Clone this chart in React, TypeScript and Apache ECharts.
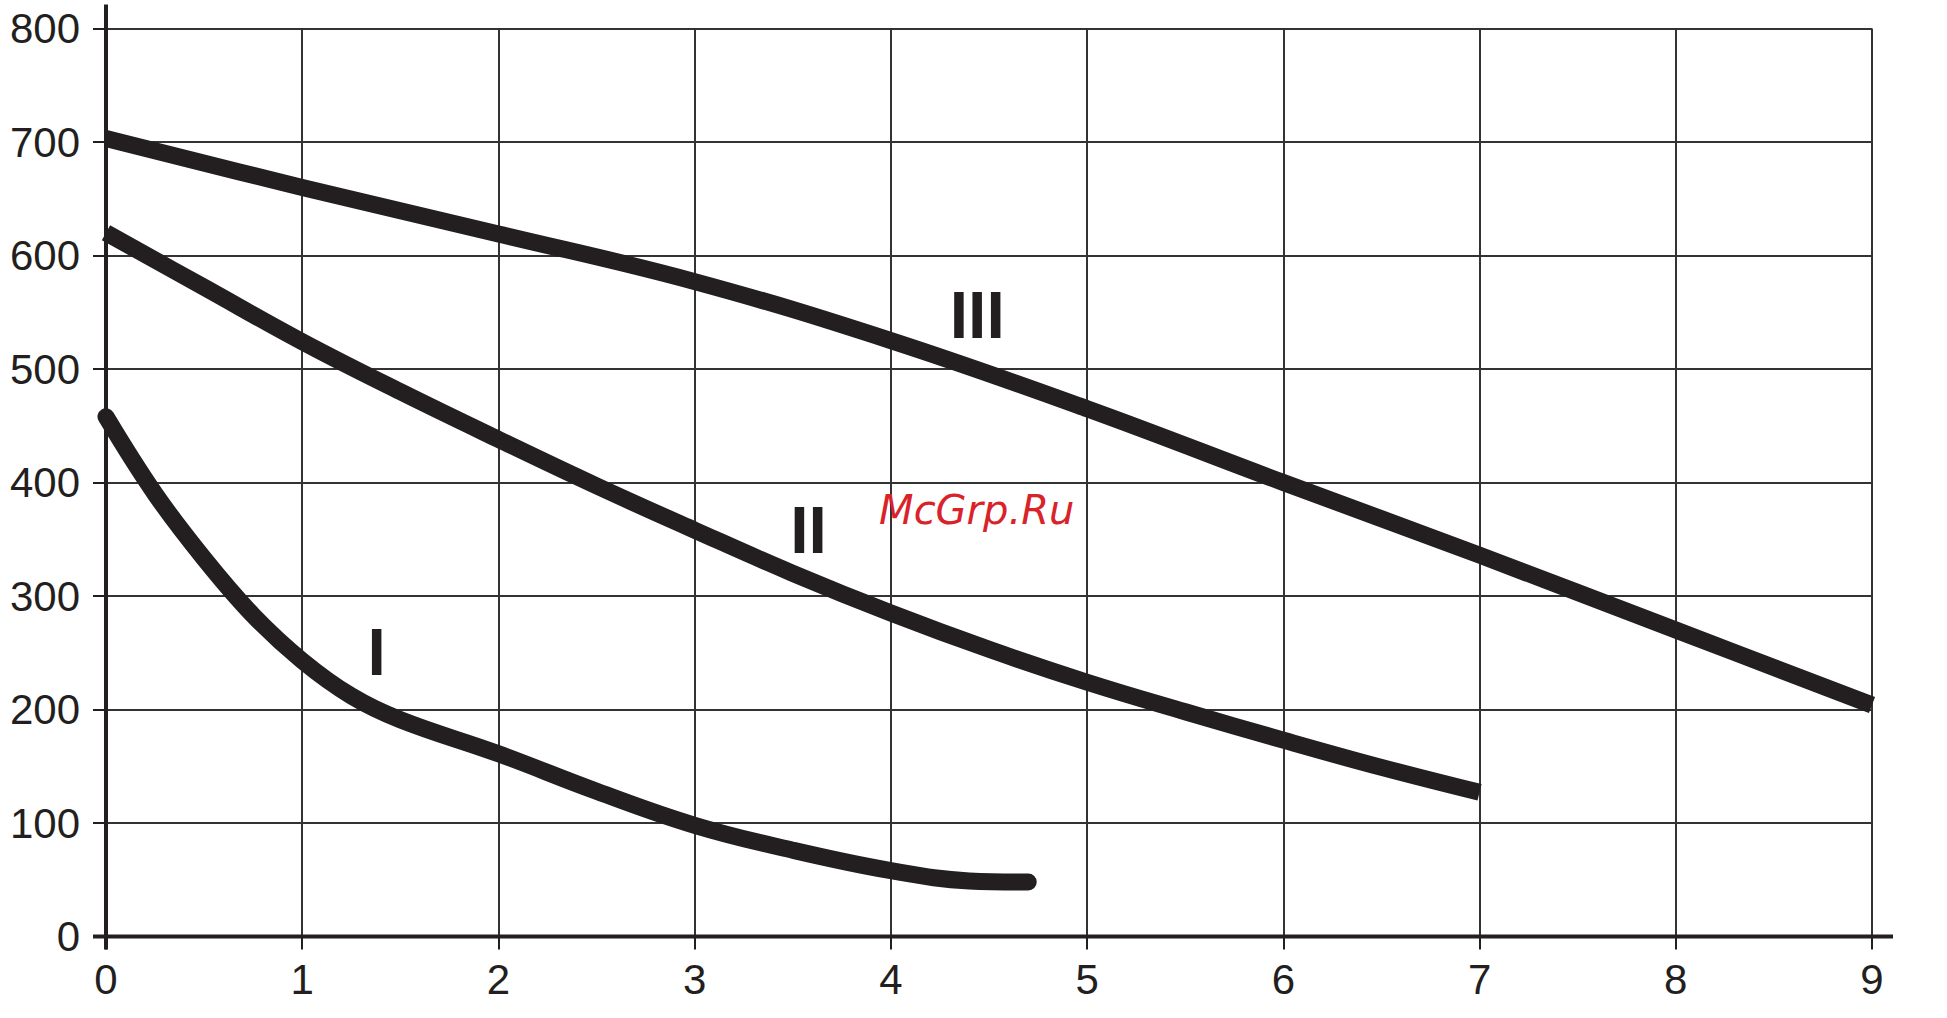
import React, { useEffect, useRef } from "react";
import * as echarts from "echarts";

const xTicks = [0, 1, 2, 3, 4, 5, 6, 7, 8, 9];
const yTicks = [0, 100, 200, 300, 400, 500, 600, 700, 800];

const curveIX = [0, 0.25, 0.5, 0.75, 1, 1.25, 1.5, 2, 2.5, 3, 3.5, 4, 4.4, 4.7];
const curveIY = [458, 390, 333, 283, 243, 212, 191, 161, 128, 98, 76, 58, 49, 48];

const curveIIX = [0, 0.5, 1, 1.5, 2, 2.5, 3, 3.5, 4, 4.5, 5, 5.5, 6, 6.5, 7];
const curveIIY = [620, 572, 524, 480, 438, 397, 358, 320, 285, 253, 224, 198, 173, 149, 127];

const curveIIIX = [0, 1, 2, 3, 4, 5, 6, 7, 8, 9];
const curveIIIY = [703, 660, 619, 577, 525, 465, 400, 336, 270, 204];

const curveNames = ["I", "II", "III"];
const curveLabelX = [1.38, 3.58, 4.44];
const curveLabelY = [251, 358, 548];

const watermarkText = "McGrp.Ru";
const watermarkX = 3.94;
const watermarkY = 376;

const INK = "#231f20";

export default function App() {
  const ref = useRef<HTMLDivElement>(null);

  useEffect(() => {
    const chart = echarts.init(ref.current as HTMLDivElement, null, { renderer: "svg" });
    const pair = (xs: number[], ys: number[]) => xs.map((x, i) => [x, ys[i]]);
    const labelFont = "Liberation Sans";

    const series = [
      { name: curveNames[0], data: pair(curveIX, curveIY), cap: "round" },
      { name: curveNames[1], data: pair(curveIIX, curveIIY), cap: "butt" },
      { name: curveNames[2], data: pair(curveIIIX, curveIIIY), cap: "butt" },
    ].map((s) => ({
      type: "line",
      name: s.name,
      data: s.data,
      smooth: 0.4,
      showSymbol: false,
      symbol: "none",
      lineStyle: { color: INK, width: 17, cap: s.cap, join: "round" },
      z: 5,
    }));

    chart.setOption({
      animation: false,
      backgroundColor: "#ffffff",
      grid: { left: 106, right: 75, top: 28.5, bottom: 81.5 },
      xAxis: {
        type: "value",
        min: xTicks[0],
        max: xTicks[xTicks.length - 1],
        interval: 1,
        axisLine: { show: false },
        axisTick: { show: true, length: 13, lineStyle: { color: INK, width: 2 } },
        axisLabel: { margin: 22, fontSize: 42, fontFamily: labelFont, color: INK },
        splitLine: { show: true, lineStyle: { color: "#333333", width: 2 } },
      },
      yAxis: {
        type: "value",
        min: yTicks[0],
        max: yTicks[yTicks.length - 1],
        interval: 100,
        axisLine: { show: false },
        axisTick: { show: true, length: 13, lineStyle: { color: INK, width: 2 } },
        axisLabel: { margin: 26, fontSize: 42, fontFamily: labelFont, color: INK },
        splitLine: { show: true, lineStyle: { color: "#333333", width: 2 } },
      },
      series,
    });

    const o = chart.convertToPixel({ gridIndex: 0 }, [xTicks[0], yTicks[0]]) as number[];
    const e = chart.convertToPixel({ gridIndex: 0 }, [xTicks[xTicks.length - 1], yTicks[yTicks.length - 1]]) as number[];

    const graphics: any[] = [
      {
        type: "line",
        shape: { x1: o[0], y1: e[1] - 24, x2: o[0], y2: o[1] + 13 },
        style: { stroke: INK, lineWidth: 4 },
        z: 10,
      },
      {
        type: "line",
        shape: { x1: o[0] - 13, y1: o[1], x2: e[0] + 21, y2: o[1] },
        style: { stroke: INK, lineWidth: 4 },
        z: 10,
      },
    ];

    curveNames.forEach((name, i) => {
      const p = chart.convertToPixel({ gridIndex: 0 }, [curveLabelX[i], curveLabelY[i]]) as number[];
      graphics.push({
        type: "text",
        x: p[0],
        y: p[1],
        z: 10,
        style: {
          text: name,
          fill: INK,
          fontSize: 66,
          fontWeight: "bold",
          fontFamily: "'Liberation Sans Narrow', 'Liberation Sans', sans-serif",
          align: "center",
          verticalAlign: "middle",
        },
      });
    });

    const wm = chart.convertToPixel({ gridIndex: 0 }, [watermarkX, watermarkY]) as number[];
    graphics.push({
      type: "text",
      x: wm[0],
      y: wm[1],
      z: 11,
      style: {
        text: watermarkText,
        fill: "#d9232a",
        fontSize: 40,
        fontStyle: "italic",
        fontFamily: "'DejaVu Sans', sans-serif",
        align: "left",
        verticalAlign: "middle",
      },
    });

    chart.setOption({ graphic: graphics });

    return () => chart.dispose();
  }, []);

  return (
    <div
      ref={ref}
      style={{ position: "fixed", left: 0, top: 0, width: 1947, height: 1018, background: "#ffffff" }}
    />
  );
}
